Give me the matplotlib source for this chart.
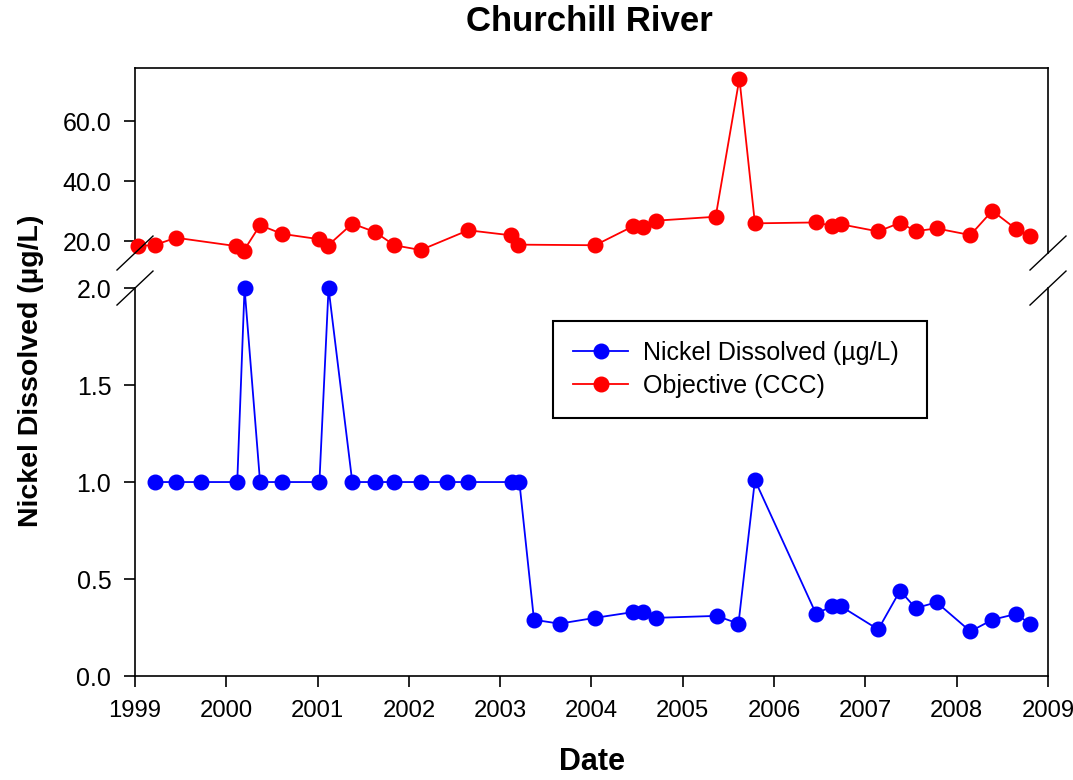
import matplotlib
matplotlib.use("Agg")
import matplotlib.pyplot as plt

plt.rcParams['font.family'] = ['Liberation Sans', 'DejaVu Sans']

# dissolved nickel (ug/L), dates as decimal years
nickel_dates = [1999.22, 1999.45, 1999.72, 2000.12, 2000.20, 2000.37, 2000.61,
                2001.02, 2001.12, 2001.38, 2001.63, 2001.84, 2002.13, 2002.42,
                2002.65, 2003.13, 2003.21, 2003.37, 2003.65, 2004.04, 2004.46,
                2004.56, 2004.71, 2005.37, 2005.61, 2005.79, 2006.46, 2006.63,
                2006.73, 2007.14, 2007.38, 2007.55, 2007.78, 2008.15, 2008.39,
                2008.65, 2008.80]
nickel_vals = [1.0, 1.0, 1.0, 1.0, 2.0, 1.0, 1.0,
               1.0, 2.0, 1.0, 1.0, 1.0, 1.0, 1.0,
               1.0, 1.0, 1.0, 0.29, 0.27, 0.30, 0.33,
               0.33, 0.30, 0.31, 0.27, 1.01, 0.32, 0.36,
               0.36, 0.24, 0.44, 0.35, 0.38, 0.23, 0.29,
               0.32, 0.27]

# objective (CCC)
obj_dates = [1999.03, 1999.22, 1999.45, 2000.11, 2000.19, 2000.37, 2000.61,
             2001.02, 2001.11, 2001.38, 2001.63, 2001.84, 2002.13, 2002.65,
             2003.12, 2003.20, 2004.04, 2004.46, 2004.56, 2004.71, 2005.36,
             2005.62, 2005.79, 2006.46, 2006.63, 2006.73, 2007.14, 2007.38,
             2007.55, 2007.78, 2008.15, 2008.39, 2008.65, 2008.80]
obj_vals = [18.3, 18.7, 21.1, 18.3, 16.7, 25.3, 22.4,
            20.6, 18.4, 25.8, 23.0, 18.6, 17.0, 23.6,
            21.9, 18.8, 18.6, 25.0, 24.7, 26.8, 28.1,
            74.2, 25.9, 26.2, 25.1, 25.6, 23.2, 26.1,
            23.3, 24.2, 22.0, 30.1, 24.0, 21.6]

years = list(range(1999, 2010))
top_ticks = [20, 40, 60]
bot_ticks = [0.0, 0.5, 1.0, 1.5, 2.0]

fs = 18
lw_spine = 1.2

fig = plt.figure(figsize=(10.73, 7.8), dpi=100)
ax_top = fig.add_axes([0.1258, 0.6756, 0.8509, 0.2368])
ax_bot = fig.add_axes([0.1258, 0.1333, 0.8509, 0.4974])

nk, = ax_bot.plot(nickel_dates, nickel_vals, color="blue", marker="o", markersize=10.5,
                  linewidth=1.3, clip_on=False, zorder=3, label="Nickel Dissolved (µg/L)")
ob, = ax_top.plot(obj_dates, obj_vals, color="red", marker="o", markersize=10.5,
                  linewidth=1.3, clip_on=False, zorder=3, label="Objective (CCC)")

for ax in (ax_top, ax_bot):
    ax.set_xlim(1999, 2009)
    for s in ax.spines.values():
        s.set_linewidth(lw_spine)
    ax.tick_params(axis="y", direction="out", length=8, width=lw_spine, labelsize=fs, pad=9, right=False)
    ax.tick_params(axis="x", direction="out", length=8, width=lw_spine, labelsize=17.2, pad=9)

ax_top.set_ylim(16, 77.6)
ax_top.set_yticks(top_ticks)
ax_top.set_yticklabels([f"{t:.1f}" for t in top_ticks])
ax_top.spines["bottom"].set_visible(False)
ax_top.tick_params(axis="x", bottom=False, labelbottom=False)

ax_bot.set_ylim(0, 2.0)
ax_bot.set_yticks(bot_ticks)
ax_bot.set_yticklabels([f"{t:.1f}" for t in bot_ticks])
ax_bot.set_xticks(years)
ax_bot.set_xticklabels([str(y) for y in years])
ax_bot.spines["top"].set_visible(False)

# break marks
dx = 18 / 913
for ax, yb, hpx in ((ax_top, 0.0, 184.7), (ax_bot, 1.0, 388.0)):
    dy = 17 / hpx
    for xb in (0.0, 1.0):
        ax.plot([xb - dx, xb + dx], [yb - dy, yb + dy], transform=ax.transAxes,
                color="black", linewidth=1.0, clip_on=False, zorder=5)

ax_bot.legend(handles=[nk, ob], loc="upper left", bbox_to_anchor=(0.458, 0.66, 0.409, 0.255),
              mode="expand", fontsize=fs, numpoints=1, handlelength=2.2, handletextpad=0.6,
              borderpad=0.8, labelspacing=0.34, fancybox=False, framealpha=1,
              edgecolor="black", borderaxespad=0).get_frame().set_linewidth(1.5)

fig.text(0.549, 0.972, "Churchill River", ha="center", va="center", fontsize=25, fontweight="bold")
fig.text(0.029, 0.524, "Nickel Dissolved (µg/L)", ha="center", va="center", rotation=90,
         fontsize=20.5, fontweight="bold")
fig.text(0.5513, 0.023, "Date", ha="center", va="center", fontsize=22, fontweight="bold")

fig.savefig("out.png", dpi=100)
